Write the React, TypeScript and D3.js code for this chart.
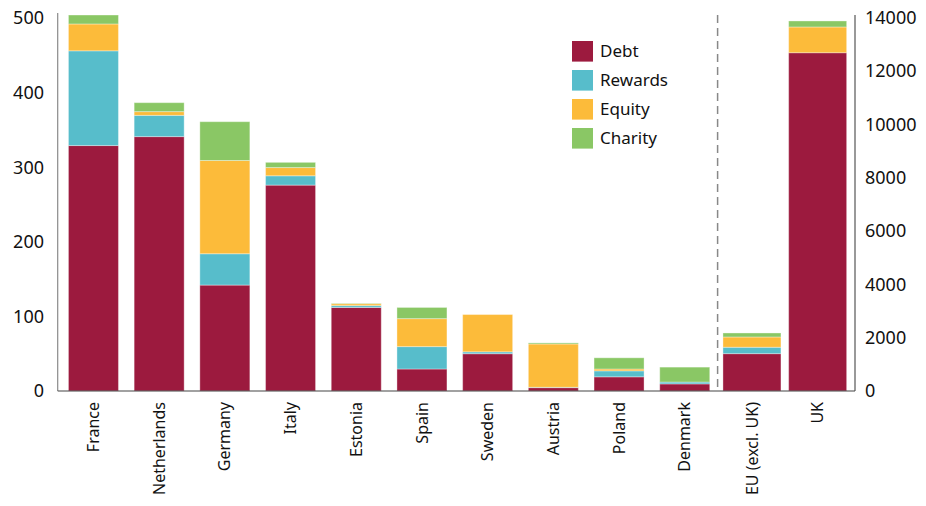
import React from "react";
import * as d3 from "d3";

const categories = ["France", "Netherlands", "Germany", "Italy", "Estonia", "Spain", "Sweden", "Austria", "Poland", "Denmark", "EU (excl. UK)", "UK"];
// true = plotted against right axis
const onRightAxis = [false, false, false, false, false, false, false, false, false, false, true, true];
const debt = [329, 341, 142, 276, 112, 29.5, 50, 4.5, 19, 9.5, 1400, 12680];
const rewards = [127, 28.5, 42, 12.5, 2.5, 30, 2.5, 0.5, 8, 2.5, 240, 0];
const equity = [36, 5, 125, 11, 2.5, 37.5, 50, 58, 2.5, 0, 385, 965];
const charity = [12, 12, 52, 7, 0.5, 15, 0, 1.5, 15, 20, 150, 225];
const leftTicks = [0, 100, 200, 300, 400, 500];
const rightTicks = [0, 2000, 4000, 6000, 8000, 10000, 12000, 14000];
const seriesNames = ["Debt", "Rewards", "Equity", "Charity"];
const seriesColors = ["#9c1a3e", "#57bdcb", "#fcbb3a", "#8ac765"];

const W = 926;
const H = 506;
const FONT = "'Noto Sans', 'DejaVu Sans', sans-serif";

export default function App() {
  const x = d3.scaleBand<string>().domain(categories).range([60.6, 849]).padding(0);
  const yL = d3.scaleLinear().domain([0, 500]).range([391, 18]);
  const yR = d3.scaleLinear().domain([0, 14000]).range([391, 17.5]);

  const rows = categories.map((c, i) => ({
    cat: c,
    Debt: debt[i],
    Rewards: rewards[i],
    Equity: equity[i],
    Charity: charity[i],
    right: onRightAxis[i],
  }));
  const stacked = d3.stack<any>().keys(seriesNames)(rows);

  const dashX = (x(categories[9])! + x.bandwidth() + x(categories[10])!) / 2;

  return (
    <svg width={W} height={H} style={{ position: "absolute", left: 0, top: 0, background: "#fff" }}>
      {stacked.map((layer, si) => (
        <g key={seriesNames[si]} fill={seriesColors[si]}>
          {layer.map((d, i) => {
            const r = rows[i].right;
            const y = r ? yR : yL;
            const bw = r ? 58 : 50;
            const cx = x(categories[i])! + x.bandwidth() / 2 + (r ? 1.5 : 0);
            const y0 = y(d[0]);
            const y1 = y(d[1]);
            if (y0 - y1 <= 0) return null;
            return (
              <rect
                key={i}
                x={cx - bw / 2}
                y={y1}
                width={bw}
                height={y0 - y1}
                stroke="rgba(255,255,255,0.35)"
                strokeWidth={1}
              />
            );
          })}
        </g>
      ))}

      {/* dashed separator */}
      <line x1={dashX} x2={dashX} y1={15} y2={391} stroke="#888" strokeWidth={1.5} strokeDasharray="8,5" />

      {/* axes */}
      <line x1={57.7} x2={57.7} y1={13} y2={391} stroke="#8a8a8a" strokeWidth={1.2} />
      <line x1={855} x2={855} y1={15} y2={391} stroke="#555" strokeWidth={1.2} />
      <line x1={57.7} x2={855} y1={391} y2={391} stroke="#444" strokeWidth={1.2} />

      {leftTicks.map((t) => (
        <text key={t} x={44} y={yL(t)} dy="0.36em" textAnchor="end" fontFamily={FONT} fontSize={18} fill="#111">
          {t}
        </text>
      ))}
      {rightTicks.map((t) => (
        <text key={t} x={865} y={yR(t)} dy="0.36em" textAnchor="start" fontFamily={FONT} fontSize={18} fill="#111">
          {t}
        </text>
      ))}

      {categories.map((c, i) => {
        const cx = x(c)! + x.bandwidth() / 2 + (onRightAxis[i] ? 1.5 : 0);
        return (
          <text
            key={c}
            transform={`translate(${cx},402) rotate(-90)`}
            dy="0.35em"
            textAnchor="end"
            fontFamily={FONT}
            fontSize={16}
            fill="#111"
          >
            {c}
          </text>
        );
      })}

      {/* legend */}
      {seriesNames.map((s, i) => {
        const cy = 51.3 + i * 29;
        return (
          <g key={s}>
            <rect x={572} y={cy - 10.3} width={21} height={20.6} fill={seriesColors[i]} />
            <text x={600} y={cy} dy="0.36em" fontFamily={FONT} fontSize={17} fill="#111">
              {s}
            </text>
          </g>
        );
      })}
    </svg>
  );
}
